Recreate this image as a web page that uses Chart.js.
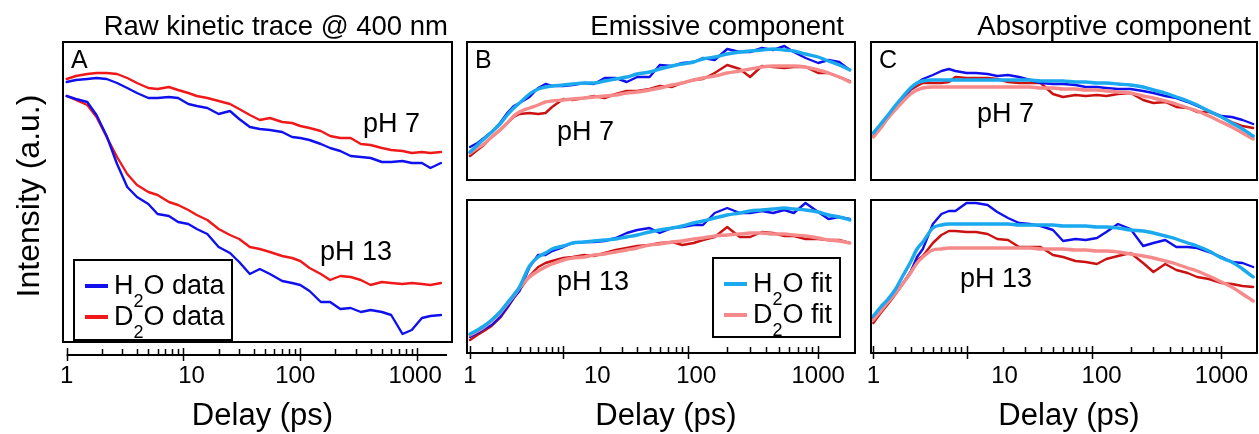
<!DOCTYPE html>
<html lang="en">
<head>
<meta charset="UTF-8">
<title>Kinetic traces at 400 nm</title>
<script src="https://cdn.jsdelivr.net/npm/chart.js"></script>
<style>
  body { margin: 0; background: #fff; }
  #wrap { position: relative; width: 1259px; height: 434px; overflow: hidden; }
  #wrap canvas { position: absolute; left: 0; top: 0; }
</style>
</head>
<body>
<div id="wrap">
  <canvas id="panelA" width="1259" height="434"></canvas>
  <canvas id="panelB7" width="1259" height="434"></canvas>
  <canvas id="panelB13" width="1259" height="434"></canvas>
  <canvas id="panelC7" width="1259" height="434"></canvas>
  <canvas id="panelC13" width="1259" height="434"></canvas>
</div>
<script>
// ---- data (intensity in arbitrary units, delay in ps) ----
const aDelay = [1, 1.2, 1.5, 1.8, 2.2, 2.7, 3.3, 4, 5, 6, 7.5, 9, 11, 13, 16, 20, 25, 30, 37, 45, 55, 70, 85, 100, 120, 150, 180, 220, 270, 330, 400, 500, 600, 750, 900, 1100, 1300, 1600];
const aH2O7 = [260, 262, 263, 264, 263, 259, 254, 249, 244, 244, 245, 244, 238, 236, 234, 228, 231, 223, 215, 213, 212, 210, 205, 204, 202, 198, 194, 191, 186, 185, 184, 180, 180, 181, 179, 179, 174, 179];
const aD2O7 = [263, 266, 268, 269, 269, 268, 264, 259, 254, 253, 255, 252, 249, 246, 244, 241, 238, 233, 227, 222, 224, 220, 219, 216, 214, 211, 206, 204, 204, 198, 197, 194, 192, 191, 189, 190, 189, 190];
const aH2O13 = [246, 243, 240, 227, 206, 178, 155, 145, 138, 128, 126, 120, 118, 113, 108, 95, 89, 80, 68, 73, 68, 61, 59, 57, 51, 40, 40, 33, 34, 30, 32, 30, 27, 8, 12, 24, 26, 27];
const aD2O13 = [246, 242, 237, 225, 205, 185, 168, 157, 150, 147, 140, 137, 132, 127, 122, 113, 107, 103, 95, 93, 90, 86, 84, 81, 74, 68, 62, 66, 65, 62, 57, 60, 59, 58, 59, 58, 57, 59];

const bcDelay = [1, 1.3, 1.6, 2, 2.5, 3, 3.5, 4, 5, 6, 7, 8, 10, 12, 15, 18, 22, 27, 33, 40, 50, 60, 75, 90, 110, 130, 160, 200, 250, 300, 370, 450, 550, 650, 800, 1000, 1200, 1450, 1750];

// emissive component
const bH2O7 = [33, 37, 42, 48, 57, 67, 74, 77, 83, 92, 96, 94, 94, 95, 97, 96, 102, 102, 98, 103, 103, 115, 114, 117, 118, 122, 120, 131, 128, 128, 132, 130, 134, 128, 122, 117, 120, 118, 110];
const bH2O7Fit = [28, 35, 41, 48, 56, 65, 72, 77, 86, 91, 93, 94, 95, 96, 97, 97, 99, 101, 103, 106, 108, 111, 114, 116, 118, 121, 123, 126, 128, 129, 130, 131, 130, 129, 126, 123, 119, 115, 110];
const bD2O7 = [24, 30, 35, 43, 50, 57, 63, 66, 67, 66, 67, 73, 81, 80, 82, 84, 82, 86, 89, 89, 91, 94, 93, 97, 100, 101, 107, 115, 111, 103, 114, 113, 112, 113, 113, 107, 107, 103, 99];
const bD2O7Fit = [27, 32, 36, 43, 50, 57, 64, 68, 72, 75, 78, 79, 80, 81, 82, 83, 84, 85, 87, 88, 90, 92, 95, 97, 100, 102, 104, 107, 109, 111, 113, 114, 114, 114, 113, 110, 107, 103, 98];
const bH2O13 = [16, 20, 24, 28, 36, 46, 55, 62, 86, 98, 98, 102, 106, 110, 111, 111, 112, 115, 120, 123, 125, 120, 125, 126, 128, 128, 140, 145, 140, 140, 142, 140, 143, 140, 150, 141, 134, 136, 134];
const bH2O13Fit = [19, 23, 27, 33, 41, 50, 58, 66, 87, 96, 100, 104, 107, 110, 111, 112, 113, 114, 116, 118, 121, 123, 125, 127, 130, 132, 135, 138, 140, 142, 143, 144, 145, 144, 143, 141, 138, 136, 133];
const bD2O13 = [13, 18, 22, 27, 35, 45, 55, 63, 77, 86, 90, 92, 95, 96, 98, 97, 100, 103, 105, 107, 108, 110, 111, 108, 110, 113, 116, 126, 116, 116, 121, 120, 117, 117, 114, 114, 113, 113, 110];
const bD2O13Fit = [18, 22, 26, 32, 40, 49, 57, 65, 76, 82, 86, 89, 93, 95, 96, 98, 99, 101, 103, 105, 108, 109, 111, 112, 114, 115, 117, 118, 119, 120, 120, 119, 119, 118, 117, 115, 113, 112, 110];

// absorptive component
const cH2O7 = [47, 55, 63, 72, 82, 91, 97, 101, 105, 109, 111, 109, 107, 107, 106, 104, 105, 103, 100, 97, 96, 96, 95, 93, 93, 92, 91, 91, 89, 87, 84, 82, 78, 74, 69, 64, 63, 60, 56];
const cH2O7Fit = [47, 56, 64, 74, 84, 92, 97, 99, 100, 100, 100, 100, 100, 100, 100, 100, 100, 100, 100, 99, 99, 99, 98, 98, 97, 97, 96, 95, 93, 90, 87, 83, 79, 75, 69, 63, 57, 51, 44];
const cD2O7 = [44, 53, 61, 71, 81, 90, 94, 97, 97, 97, 98, 103, 102, 102, 102, 101, 98, 97, 97, 97, 86, 83, 85, 84, 85, 84, 86, 87, 80, 77, 78, 73, 72, 68, 68, 63, 58, 54, 52];
const cD2O7Fit = [43, 52, 61, 70, 79, 86, 90, 92, 93, 93, 93, 93, 93, 93, 93, 93, 93, 93, 93, 92, 92, 91, 91, 90, 90, 89, 88, 87, 84, 82, 79, 76, 72, 69, 64, 58, 53, 47, 41];
const cH2O13 = [35, 43, 50, 60, 70, 81, 96, 104, 129, 139, 142, 142, 150, 150, 148, 141, 135, 130, 129, 127, 123, 112, 114, 113, 115, 121, 129, 124, 107, 110, 113, 106, 106, 105, 101, 96, 91, 90, 86];
const cH2O13Fit = [37, 46, 53, 63, 78, 91, 104, 111, 125, 128, 129, 129, 129, 129, 129, 129, 129, 128, 128, 128, 128, 127, 127, 127, 126, 126, 125, 123, 122, 120, 117, 114, 110, 107, 102, 95, 91, 84, 76];
const cD2O13 = [30, 40, 48, 58, 70, 81, 93, 97, 110, 118, 122, 122, 121, 121, 119, 114, 113, 106, 106, 106, 98, 96, 92, 91, 89, 94, 97, 100, 90, 81, 89, 83, 80, 76, 74, 70, 69, 67, 66];
const cD2O13Fit = [33, 42, 50, 59, 70, 80, 90, 96, 103, 104, 105, 105, 105, 105, 105, 105, 105, 105, 105, 104, 104, 104, 103, 103, 102, 102, 101, 99, 97, 95, 92, 89, 85, 82, 77, 71, 66, 59, 52];

// axis ticks
const xMajorTicks = [1, 10, 100, 1000];
const xTickLabels = ['1', '10', '100', '1000'];
const xMinorTicks = [2, 3, 4, 5, 6, 7, 8, 9, 20, 30, 40, 50, 60, 70, 80, 90, 200, 300, 400, 500, 600, 700, 800, 900];

// ---- styling ----
const FONT = '"Liberation Sans", Arial, sans-serif';
const BLUE = '#1010ee';
const RED_A = '#f01818';
const RED = '#cc1111';
const CYAN = '#1aa8ef';
const PINK = '#f68a8a';

// B and C use a log axis on (delay + shift), so the first decade is squeezed
const SHIFT = 1.15;
class ShiftedLogScale extends Chart.LogarithmicScale {
  getPixelForValue(value) {
    const lo = Math.log10(this.min + SHIFT);
    const hi = Math.log10(this.max + SHIFT);
    return this.getPixelForDecimal((Math.log10(value + SHIFT) - lo) / (hi - lo));
  }
  getValueForPixel(pixel) {
    const lo = Math.log10(this.min + SHIFT);
    const hi = Math.log10(this.max + SHIFT);
    return Math.pow(10, lo + this.getDecimalForPixel(pixel) * (hi - lo)) - SHIFT;
  }
}
ShiftedLogScale.id = 'shiftedLog';
ShiftedLogScale.defaults = Chart.LogarithmicScale.defaults;
Chart.register(ShiftedLogScale);

function pts(xs, ys) {
  return xs.map((x, i) => ({ x: x, y: ys[i] }));
}

function trace(xs, ys, color, fit) {
  return {
    data: pts(xs, ys),
    borderColor: color,
    borderWidth: fit ? 3.4 : 2.4,
    pointRadius: 0,
    fill: false,
    tension: 0,
    cubicInterpolationMode: fit ? 'monotone' : 'default',
    borderJoinStyle: 'round',
    borderCapStyle: 'round',
    order: fit ? 0 : 1
  };
}

function chemText(ctx, x, y, pre, sub, post, size) {
  ctx.textAlign = 'left';
  ctx.textBaseline = 'alphabetic';
  ctx.font = size + 'px ' + FONT;
  ctx.fillText(pre, x, y);
  x += ctx.measureText(pre).width;
  ctx.font = Math.round(size * 0.68) + 'px ' + FONT;
  ctx.fillText(sub, x, y + 13);
  x += ctx.measureText(sub).width;
  ctx.font = size + 'px ' + FONT;
  ctx.fillText(post, x, y);
}

function decoPlugin(p) {
  return {
    id: 'deco',
    afterDatasetsDraw(chart) {
      const ctx = chart.ctx;
      const area = chart.chartArea;
      const xs = chart.scales.x;
      ctx.save();
      ctx.strokeStyle = '#000';
      ctx.fillStyle = '#000';
      ctx.lineWidth = 2;

      // frame
      const boxBottom = p.boxGap ? chart.scales.y.getPixelForValue(0) : area.bottom;
      ctx.strokeRect(area.left, area.top, area.right - area.left, boxBottom - area.top);

      // x axis with ticks pointing up
      if (p.axis) {
        const ay = area.bottom;
        if (p.boxGap) {
          ctx.beginPath();
          ctx.moveTo(xs.getPixelForValue(1), ay);
          ctx.lineTo(area.right - 5, ay);
          ctx.stroke();
        }
        ctx.lineWidth = 1.5;
        ctx.beginPath();
        xMinorTicks.forEach(v => {
          const px = Math.round(xs.getPixelForValue(v)) + 0.5;
          ctx.moveTo(px, ay - 6);
          ctx.lineTo(px, ay);
        });
        xMajorTicks.forEach(v => {
          const px = Math.round(xs.getPixelForValue(v)) + 0.5;
          ctx.moveTo(px, ay - 7);
          ctx.lineTo(px, ay + 6);
        });
        ctx.stroke();
        ctx.font = '24px ' + FONT;
        ctx.textAlign = 'center';
        ctx.textBaseline = 'alphabetic';
        xMajorTicks.forEach((v, i) => {
          const shift = (p.labelShift && p.labelShift[i]) || 0;
          ctx.fillText(xTickLabels[i], xs.getPixelForValue(v) + shift, 383);
        });
        ctx.font = '31px ' + FONT;
        ctx.fillText('Delay (ps)', (area.left + area.right) / 2 + 5, 425);
      }

      // title above the column
      if (p.title) {
        ctx.font = '27.5px ' + FONT;
        ctx.textAlign = 'right';
        ctx.textBaseline = 'alphabetic';
        ctx.fillText(p.title, p.titleRight, 35);
      }
      if (p.letter) {
        ctx.font = '25px ' + FONT;
        ctx.textAlign = 'left';
        ctx.fillText(p.letter, area.left + 8, 68);
      }
      ctx.font = '27px ' + FONT;
      ctx.textAlign = 'left';
      if (p.ph) ctx.fillText(p.ph[0], p.ph[1], p.ph[2]);
      if (p.ph2) ctx.fillText(p.ph2[0], p.ph2[1], p.ph2[2]);
      if (p.yTitle) {
        ctx.save();
        ctx.translate(30, 196);
        ctx.rotate(-Math.PI / 2);
        ctx.font = '32px ' + FONT;
        ctx.textAlign = 'center';
        ctx.textBaseline = 'middle';
        ctx.fillText(p.yTitle, 0, 0);
        ctx.restore();
      }
      if (p.legend) {
        const L = p.legend;
        ctx.lineWidth = 2;
        ctx.strokeRect(L.x, L.y, L.w, L.h);
        L.items.forEach((it, i) => {
          const ly = L.y + 26 + i * 31;
          ctx.strokeStyle = it.color;
          ctx.lineWidth = 4;
          ctx.beginPath();
          ctx.moveTo(L.x + 11, ly);
          ctx.lineTo(L.x + 34, ly);
          ctx.stroke();
          ctx.fillStyle = '#000';
          chemText(ctx, L.x + 40, ly + 8, it.pre, '2', it.post, 27);
        });
      }
      ctx.restore();
    }
  };
}

function makePanel(id, cfg) {
  return new Chart(document.getElementById(id), {
    type: 'line',
    data: { datasets: cfg.datasets },
    options: {
      responsive: false,
      animation: false,
      events: [],
      layout: { padding: cfg.pad },
      plugins: { legend: { display: false }, tooltip: { enabled: false }, title: { display: false } },
      scales: {
        x: { type: cfg.xType, min: cfg.xMin, max: cfg.xMax, display: false },
        y: { type: 'linear', min: cfg.yMin, max: cfg.yMax, display: false }
      }
    },
    plugins: [decoPlugin(cfg.deco)]
  });
}

// A: raw kinetic trace
makePanel('panelA', {
  pad: { left: 63, top: 42, right: 1259 - 452, bottom: 434 - 355 },
  xType: 'logarithmic', xMin: 0.93, xMax: 1990, yMin: -13, yMax: 300,
  datasets: [
    trace(aDelay, aH2O7, BLUE, false),
    trace(aDelay, aH2O13, BLUE, false),
    trace(aDelay, aD2O7, RED_A, false),
    trace(aDelay, aD2O13, RED_A, false)
  ],
  deco: {
    boxGap: true, axis: true, labelShift: [0, 8, -5, -2],
    title: 'Raw kinetic trace @ 400 nm', titleRight: 448, letter: 'A',
    ph: ['pH 7', 363, 132], ph2: ['pH 13', 320, 260],
    yTitle: 'Intensity (a.u.)',
    legend: { x: 74, y: 260, w: 158, h: 80, items: [
      { color: BLUE, pre: 'H', post: 'O data' },
      { color: RED_A, pre: 'D', post: 'O data' }
    ] }
  }
});

// B: emissive component
makePanel('panelB7', {
  pad: { left: 467, top: 42, right: 1259 - 855, bottom: 434 - 180 },
  xType: 'shiftedLog', xMin: 0.889, xMax: 1917, yMin: 0, yMax: 138,
  datasets: [
    trace(bcDelay, bH2O7, BLUE, false),
    trace(bcDelay, bD2O7, RED, false),
    trace(bcDelay, bH2O7Fit, CYAN, true),
    trace(bcDelay, bD2O7Fit, PINK, true)
  ],
  deco: { title: 'Emissive component', titleRight: 844, letter: 'B', ph: ['pH 7', 557, 140] }
});
makePanel('panelB13', {
  pad: { left: 467, top: 200, right: 1259 - 855, bottom: 434 - 353 },
  xType: 'shiftedLog', xMin: 0.889, xMax: 1917, yMin: 0, yMax: 153,
  datasets: [
    trace(bcDelay, bH2O13, BLUE, false),
    trace(bcDelay, bD2O13, RED, false),
    trace(bcDelay, bH2O13Fit, CYAN, true),
    trace(bcDelay, bD2O13Fit, PINK, true)
  ],
  deco: {
    axis: true, labelShift: [0, 34, 8, 0], ph: ['pH 13', 557, 290],
    legend: { x: 713, y: 258, w: 127, h: 79, items: [
      { color: CYAN, pre: 'H', post: 'O fit' },
      { color: PINK, pre: 'D', post: 'O fit' }
    ] }
  }
});

// C: absorptive component
makePanel('panelC7', {
  pad: { left: 871, top: 42, right: 1259 - 1257, bottom: 434 - 180 },
  xType: 'shiftedLog', xMin: 0.914, xMax: 1872, yMin: 0, yMax: 138,
  datasets: [
    trace(bcDelay, cH2O7, BLUE, false),
    trace(bcDelay, cD2O7, RED, false),
    trace(bcDelay, cH2O7Fit, CYAN, true),
    trace(bcDelay, cD2O7Fit, PINK, true)
  ],
  deco: { title: 'Absorptive component', titleRight: 1251, letter: 'C', ph: ['pH 7', 977, 122] }
});
makePanel('panelC13', {
  pad: { left: 871, top: 200, right: 1259 - 1257, bottom: 434 - 353 },
  xType: 'shiftedLog', xMin: 0.914, xMax: 1872, yMin: 0, yMax: 153,
  datasets: [
    trace(bcDelay, cH2O13, BLUE, false),
    trace(bcDelay, cD2O13, RED, false),
    trace(bcDelay, cH2O13Fit, CYAN, true),
    trace(bcDelay, cD2O13Fit, PINK, true)
  ],
  deco: { axis: true, labelShift: [0, 38, 10, 0], ph: ['pH 13', 960, 287] }
});
</script>
</body>
</html>
